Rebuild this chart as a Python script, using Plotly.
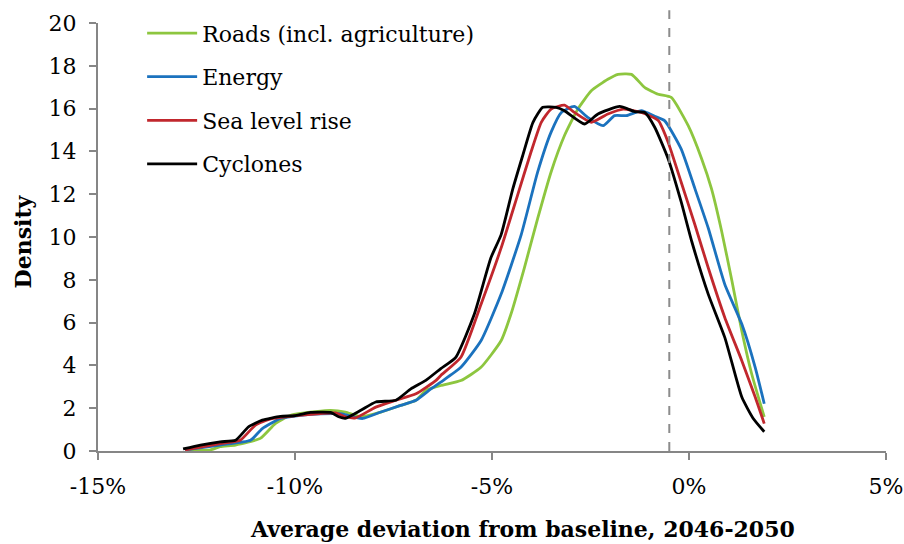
import plotly.graph_objects as go

# Data (x in percent, y = density)
roads_x = [-12.79, -12.15, -11.90, -11.51, -10.88, -10.50, -10.11, -9.86, -9.10, -8.72, -8.33, -7.82, -7.32, -6.93, -6.68, -6.30, -5.79, -5.28, -4.77, -4.52, -4.18, -3.84, -3.50, -3.16, -2.82, -2.48, -2.06, -1.80, -1.46, -1.12, -0.78, -0.45, -0.02, 0.32, 0.57, 0.83, 1.09, 1.34, 1.59, 1.91]
roads_y = [0.02, 0.05, 0.20, 0.28, 0.59, 1.28, 1.67, 1.76, 1.90, 1.82, 1.60, 1.82, 2.13, 2.37, 2.83, 3.06, 3.29, 3.91, 5.15, 6.39, 8.55, 10.87, 13.04, 14.74, 15.98, 16.83, 17.37, 17.60, 17.60, 16.98, 16.67, 16.52, 15.20, 13.66, 12.26, 10.26, 7.94, 5.61, 3.61, 1.59]

energy_x = [-12.79, -11.90, -11.13, -10.83, -10.37, -9.86, -9.35, -8.84, -8.46, -8.28, -7.82, -7.32, -6.93, -6.55, -6.30, -5.79, -5.28, -4.77, -4.26, -3.84, -3.50, -3.24, -2.91, -2.57, -2.18, -1.89, -1.59, -1.21, -0.87, -0.62, -0.20, 0.15, 0.49, 0.91, 1.34, 1.68, 1.91]
energy_y = [0.05, 0.28, 0.50, 1.05, 1.52, 1.67, 1.74, 1.74, 1.57, 1.52, 1.82, 2.13, 2.37, 2.90, 3.22, 3.91, 5.15, 7.32, 10.10, 13.04, 14.90, 15.82, 16.10, 15.59, 15.20, 15.67, 15.67, 15.90, 15.64, 15.44, 14.12, 12.26, 10.41, 7.78, 5.93, 3.91, 2.21]

sea_x = [-12.79, -11.90, -11.39, -11.01, -10.62, -9.99, -9.35, -8.97, -8.72, -8.46, -7.95, -7.44, -6.93, -6.42, -6.30, -5.79, -5.28, -4.77, -4.35, -4.01, -3.75, -3.50, -3.16, -2.91, -2.48, -2.06, -1.67, -1.21, -0.78, -0.53, -0.20, 0.15, 0.49, 0.91, 1.34, 1.68, 1.91]
sea_y = [0.05, 0.35, 0.50, 1.20, 1.50, 1.65, 1.75, 1.78, 1.60, 1.55, 2.05, 2.37, 2.67, 3.30, 3.53, 4.38, 6.85, 9.48, 11.96, 13.97, 15.36, 15.98, 16.16, 15.82, 15.36, 15.75, 15.98, 15.82, 15.44, 14.43, 12.57, 10.57, 8.55, 6.23, 4.22, 2.52, 1.28]

cyc_x = [-12.84, -12.40, -11.90, -11.51, -11.18, -10.83, -10.37, -9.99, -9.61, -9.10, -8.89, -8.72, -8.33, -7.95, -7.44, -7.06, -6.68, -6.30, -5.92, -5.45, -5.03, -4.77, -4.47, -4.22, -3.96, -3.71, -3.37, -3.16, -2.65, -2.31, -1.76, -1.38, -1.12, -0.87, -0.53, -0.20, 0.07, 0.49, 0.91, 1.34, 1.63, 1.91]
cyc_y = [0.10, 0.28, 0.43, 0.50, 1.13, 1.44, 1.62, 1.65, 1.80, 1.80, 1.60, 1.53, 1.90, 2.29, 2.37, 2.90, 3.30, 3.85, 4.38, 6.39, 9.02, 10.10, 12.26, 13.81, 15.36, 16.06, 16.06, 15.90, 15.28, 15.75, 16.10, 15.86, 15.82, 15.13, 13.66, 11.65, 9.79, 7.32, 5.30, 2.52, 1.52, 0.90]

baseline_x = -0.5
x_ticks = [-15, -10, -5, 0, 5]
x_tick_labels = ["-15%", "-10%", "-5%", "0%", "5%"]
y_ticks = list(range(0, 21, 2))
x_title = "Average deviation from baseline, 2046-2050"
y_title = "Density"

series = [
    ("Roads (incl. agriculture)", roads_x, roads_y, "#8DC63F"),
    ("Energy", energy_x, energy_y, "#1B72BE"),
    ("Sea level rise", sea_x, sea_y, "#C1272D"),
    ("Cyclones", cyc_x, cyc_y, "#000000"),
]

FONT = "DejaVu Serif"
fig = go.Figure()
for i, (name, xs, ys, col) in enumerate(series):
    fig.add_trace(go.Scatter(x=xs, y=ys, mode="lines", name=name,
                             line=dict(color=col, width=2.8, shape="spline", smoothing=0.5),
                             legendgroup=f"g{i}"))

fig.add_shape(type="line", xref="x", yref="paper", x0=baseline_x, x1=baseline_x,
              y0=0, y1=1.03, line=dict(color="#8C8C8C", width=2, dash="dash"))

fig.add_annotation(text=f"<b>{x_title}</b>", xref="paper", yref="paper",
                   x=0.539, y=-0.183, xanchor="center", yanchor="middle",
                   showarrow=False, font=dict(family=FONT, size=22, color="#000000"))
fig.add_annotation(text=f"<b>{y_title}</b>", xref="paper", yref="paper",
                   x=-0.095, y=0.49, xanchor="center", yanchor="middle", textangle=-90,
                   showarrow=False, font=dict(family=FONT, size=22, color="#000000"))

fig.update_layout(
    width=904, height=544,
    margin=dict(l=98, r=18, t=20, b=93),
    paper_bgcolor="white", plot_bgcolor="white",
    font=dict(family=FONT, size=22, color="#000000"),
    showlegend=True,
    legend=dict(x=0.056, y=1.025, xanchor="left", yanchor="top",
                bgcolor="rgba(0,0,0,0)", tracegroupgap=12,
                font=dict(family=FONT, size=22), itemwidth=50),
    xaxis=dict(range=[-15, 5], tickvals=x_ticks, ticktext=x_tick_labels,
               showgrid=False, zeroline=False, showline=True, automargin=False,
               linecolor="#868686", linewidth=2, ticks="outside",
               tickcolor="#868686", ticklen=7, tickwidth=2, ticklabelstandoff=8,
               tickfont=dict(family=FONT, size=22)),
    yaxis=dict(range=[0, 20], tickvals=y_ticks,
               showgrid=False, zeroline=False, showline=True, automargin=False,
               linecolor="#868686", linewidth=2, ticks="outside",
               tickcolor="#868686", ticklen=7, tickwidth=2, ticklabelstandoff=8,
               tickfont=dict(family=FONT, size=22)),
)

fig.write_html("out.html", config={"displayModeBar": False},
               post_script="document.body.style.margin='0';")
